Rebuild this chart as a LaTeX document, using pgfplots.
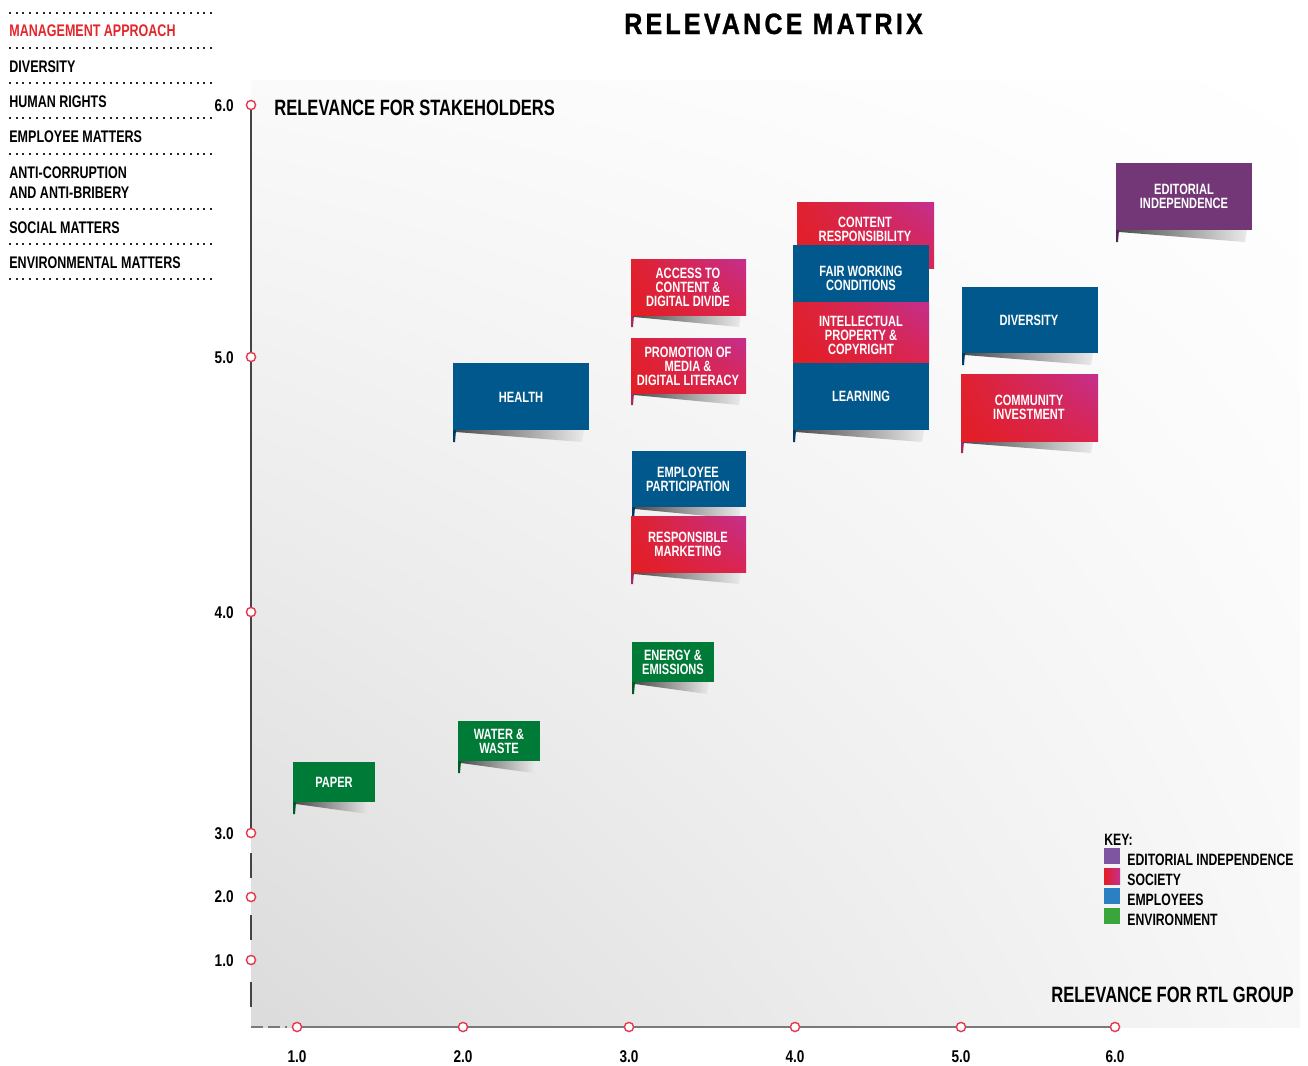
\documentclass[border=0pt]{standalone}
\usepackage{pgfplots}
\pgfplotsset{compat=1.18}
\usetikzlibrary{shadings}
\usepackage{fontspec}
\setmainfont{Liberation Sans}[FakeStretch=0.745]
\newfontfamily\titlefont{Liberation Sans}[FakeStretch=0.85,LetterSpace=11,FakeBold=1]
\newfontfamily\tickfont{Liberation Sans}[FakeStretch=0.8]

\definecolor{cblue}{HTML}{00588C}
\definecolor{cbluedk}{HTML}{003A63}
\definecolor{cgreen}{HTML}{007A37}
\definecolor{cgreendk}{HTML}{005A27}
\definecolor{cpurple}{HTML}{733777}
\definecolor{cpurpledk}{HTML}{542457}
\definecolor{cred}{HTML}{E31E24}
\definecolor{credb}{HTML}{E0212F}
\definecolor{cmid}{HTML}{DA2550}
\definecolor{cmag}{HTML}{C42F8E}
\definecolor{cmagdk}{HTML}{A22A63}
\definecolor{kpurple}{HTML}{7E55A0}
\definecolor{kblue}{HTML}{2A80C3}
\definecolor{kgreen}{HTML}{3AA53A}
\definecolor{mgmt}{HTML}{E3262B}
\definecolor{tickred}{HTML}{E5384E}
\definecolor{axisdk}{HTML}{444444}
\definecolor{axisgr}{HTML}{7A7A7A}

\tikzset{
  soc/.style={lower left=cred, upper left=credb, lower right=cmid, upper right=cmag},
  emp/.style={fill=cblue},
  env/.style={fill=cgreen},
  edi/.style={fill=cpurple},
  flagtext/.style={text=white, font=\fontsize{7.45}{7}\selectfont\bfseries, align=center, inner sep=0pt},
  listtext/.style={anchor=base west, inner sep=0pt, font=\fontsize{8.4}{9}\selectfont\bfseries},
  keytext/.style={anchor=base west, inner sep=0pt, font=\fontsize{8.2}{9}\selectfont\bfseries},
  ticktext/.style={inner sep=0pt, font=\tickfont\fontsize{8.5}{9}\selectfont\bfseries},
}

% x0 y0 x1 y1 boxstyle polecolor text tx ty   (pixel units, y downwards)
\newcommand{\flag}[9]{%
  \pgfmathsetmacro{\sxa}{#1+3}%
  \pgfmathsetmacro{\sxb}{#3-5}%
  \pgfmathsetmacro{\sxc}{#3-7}%
  \pgfmathsetmacro{\sya}{#4+12}%
  \pgfmathsetmacro{\syb}{#4+2}%
  \pgfmathsetmacro{\pxa}{#1+3}%
  \pgfmathsetmacro{\pxb}{#1+2}%
  \pgfmathsetmacro{\pya}{#4+12}%
  \addplot[draw=none, left color=black!70, middle color=black!55, right color=black!8]
    coordinates {(\sxa,#4) (\sxb,#4) (\sxc,\sya) (\sxa,\syb)} -- cycle;
  \addplot[draw=none, fill=#6] coordinates {(#1,#4) (\pxa,#4) (\pxb,\pya) (#1,\pya)} -- cycle;
  \addplot[draw=none, #5] coordinates {(#1,#2) (#3,#2) (#3,#4) (#1,#4)} -- cycle;
  \node[flagtext] at (axis cs:#8,#9) {#7};
}

\begin{document}
\begin{tikzpicture}
\begin{axis}[
  scale only axis, width=654pt, height=533pt,
  xmin=0, xmax=1308, ymin=0, ymax=1066, y dir=reverse,
  hide axis, clip=false,
]
% frame for bounding box
\addplot[draw=none] coordinates {(0,0) (1308,1066)};
% background
\addplot[draw=none, lower left=black!14, upper left=black!2, lower right=black!3, upper right=white]
  coordinates {(251,80) (1300,80) (1300,1027) (251,1027)} -- cycle;

% title
\node[anchor=base, inner sep=0pt, font=\titlefont\fontsize{14.7}{16}\selectfont\bfseries] at (axis cs:773.5,34) {RELEVANCE MATRIX};

% left list
\addplot[black!85, line width=1pt, dash pattern=on 1pt off 2.35pt] coordinates {(9,12.7) (213,12.7)};
\addplot[black!85, line width=1pt, dash pattern=on 1pt off 2.35pt] coordinates {(9,48.3) (213,48.3)};
\addplot[black!85, line width=1pt, dash pattern=on 1pt off 2.35pt] coordinates {(9,83.3) (213,83.3)};
\addplot[black!85, line width=1pt, dash pattern=on 1pt off 2.35pt] coordinates {(9,118.3) (213,118.3)};
\addplot[black!85, line width=1pt, dash pattern=on 1pt off 2.35pt] coordinates {(9,154) (213,154)};
\addplot[black!85, line width=1pt, dash pattern=on 1pt off 2.35pt] coordinates {(9,209) (213,209)};
\addplot[black!85, line width=1pt, dash pattern=on 1pt off 2.35pt] coordinates {(9,244) (213,244)};
\addplot[black!85, line width=1pt, dash pattern=on 1pt off 2.35pt] coordinates {(9,279) (213,279)};
\node[listtext, text=mgmt] at (axis cs:9,36) {MANAGEMENT APPROACH};
\node[listtext] at (axis cs:9,72.5) {DIVERSITY};
\node[listtext] at (axis cs:9,107.3) {HUMAN RIGHTS};
\node[listtext] at (axis cs:9,142.7) {EMPLOYEE MATTERS};
\node[listtext] at (axis cs:9,178) {ANTI-CORRUPTION};
\node[listtext] at (axis cs:9,198) {AND ANTI-BRIBERY};
\node[listtext] at (axis cs:9,233) {SOCIAL MATTERS};
\node[listtext] at (axis cs:9,268) {ENVIRONMENTAL MATTERS};

% axes
\addplot[axisdk, line width=0.8pt] coordinates {(251,105) (251,833)};
\addplot[axisdk, line width=0.8pt] coordinates {(251,853) (251,878)};
\addplot[axisdk, line width=0.8pt] coordinates {(251,915) (251,940)};
\addplot[axisdk, line width=0.8pt] coordinates {(251,982) (251,1007)};
\addplot[axisgr, line width=1pt] coordinates {(297,1027) (1115,1027)};
\addplot[axisgr, line width=1pt, dash pattern=on 6pt off 2.5pt] coordinates {(251,1027) (287,1027)};
\addplot[only marks, mark=*, mark size=2.3pt, mark options={draw=tickred, fill=white, line width=0.7pt}]
  coordinates {(251,105) (251,357) (251,612) (251,833) (251,897) (251,960)
               (297,1027) (463,1027) (629,1027) (795,1027) (961,1027) (1115,1027)};

% tick labels
\node[ticktext, anchor=base east] at (axis cs:234,111.5) {6.0};
\node[ticktext, anchor=base east] at (axis cs:234,363) {5.0};
\node[ticktext, anchor=base east] at (axis cs:234,618) {4.0};
\node[ticktext, anchor=base east] at (axis cs:234,839) {3.0};
\node[ticktext, anchor=base east] at (axis cs:234,902) {2.0};
\node[ticktext, anchor=base east] at (axis cs:234,966) {1.0};
\node[ticktext, anchor=base] at (axis cs:297,1062) {1.0};
\node[ticktext, anchor=base] at (axis cs:463,1062) {2.0};
\node[ticktext, anchor=base] at (axis cs:629,1062) {3.0};
\node[ticktext, anchor=base] at (axis cs:795,1062) {4.0};
\node[ticktext, anchor=base] at (axis cs:961,1062) {5.0};
\node[ticktext, anchor=base] at (axis cs:1115,1062) {6.0};

% axis titles
\node[anchor=base west, inner sep=0pt, font=\fontsize{11.1}{12}\selectfont\bfseries] at (axis cs:274,115) {RELEVANCE FOR STAKEHOLDERS};
\node[anchor=base east, inner sep=0pt, font=\fontsize{11.1}{12}\selectfont\bfseries] at (axis cs:1294,1002) {RELEVANCE FOR RTL GROUP};

% flags
\flag{1116}{163}{1252}{230}{edi}{cpurpledk}{EDITORIAL\\INDEPENDENCE}{1184}{196}
\flag{797}{202}{934}{268}{soc}{cmagdk}{CONTENT\\RESPONSIBILITY}{865}{229}
\flag{631}{259}{746}{315}{soc}{cmagdk}{ACCESS TO\\CONTENT \&\\DIGITAL DIVIDE}{688}{287}
\flag{793}{245}{929}{302}{emp}{cbluedk}{FAIR WORKING\\CONDITIONS}{861}{278}
\flag{793}{302}{929}{363}{soc}{cmagdk}{INTELLECTUAL\\PROPERTY \&\\COPYRIGHT}{861}{335}
\flag{793}{363}{929}{430}{emp}{cbluedk}{LEARNING}{861}{396}
\flag{962}{287}{1098}{353}{emp}{cbluedk}{DIVERSITY}{1029}{320}
\flag{631}{338}{746}{393}{soc}{cmagdk}{PROMOTION OF\\MEDIA \&\\DIGITAL LITERACY}{688}{366}
\flag{453}{363}{589}{430}{emp}{cbluedk}{HEALTH}{521}{397}
\flag{961}{374}{1098}{441}{soc}{cmagdk}{COMMUNITY\\INVESTMENT}{1029}{407}
\flag{632}{451}{746}{507}{emp}{cbluedk}{EMPLOYEE\\PARTICIPATION}{688}{479}
\flag{631}{516}{746}{572}{soc}{cmagdk}{RESPONSIBLE\\MARKETING}{688}{544}
\flag{632}{642}{714}{682}{env}{cgreendk}{ENERGY \&\\EMISSIONS}{673}{662}
\flag{458}{721}{540}{761}{env}{cgreendk}{WATER \&\\WASTE}{499}{741}
\flag{293}{762}{375}{802}{env}{cgreendk}{PAPER}{334}{782}

% key
\node[keytext] at (axis cs:1104,845) {KEY:};
\addplot[draw=none, fill=kpurple] coordinates {(1104,848) (1120,848) (1120,864) (1104,864)} -- cycle;
\addplot[draw=none, left color=cred, right color=cmag] coordinates {(1104,868) (1120,868) (1120,884) (1104,884)} -- cycle;
\addplot[draw=none, fill=kblue] coordinates {(1104,888) (1120,888) (1120,904) (1104,904)} -- cycle;
\addplot[draw=none, fill=kgreen] coordinates {(1104,908) (1120,908) (1120,924) (1104,924)} -- cycle;
\node[keytext] at (axis cs:1127,865) {EDITORIAL INDEPENDENCE};
\node[keytext] at (axis cs:1127,885) {SOCIETY};
\node[keytext] at (axis cs:1127,905) {EMPLOYEES};
\node[keytext] at (axis cs:1127,925) {ENVIRONMENT};
\end{axis}
\end{tikzpicture}
\end{document}
